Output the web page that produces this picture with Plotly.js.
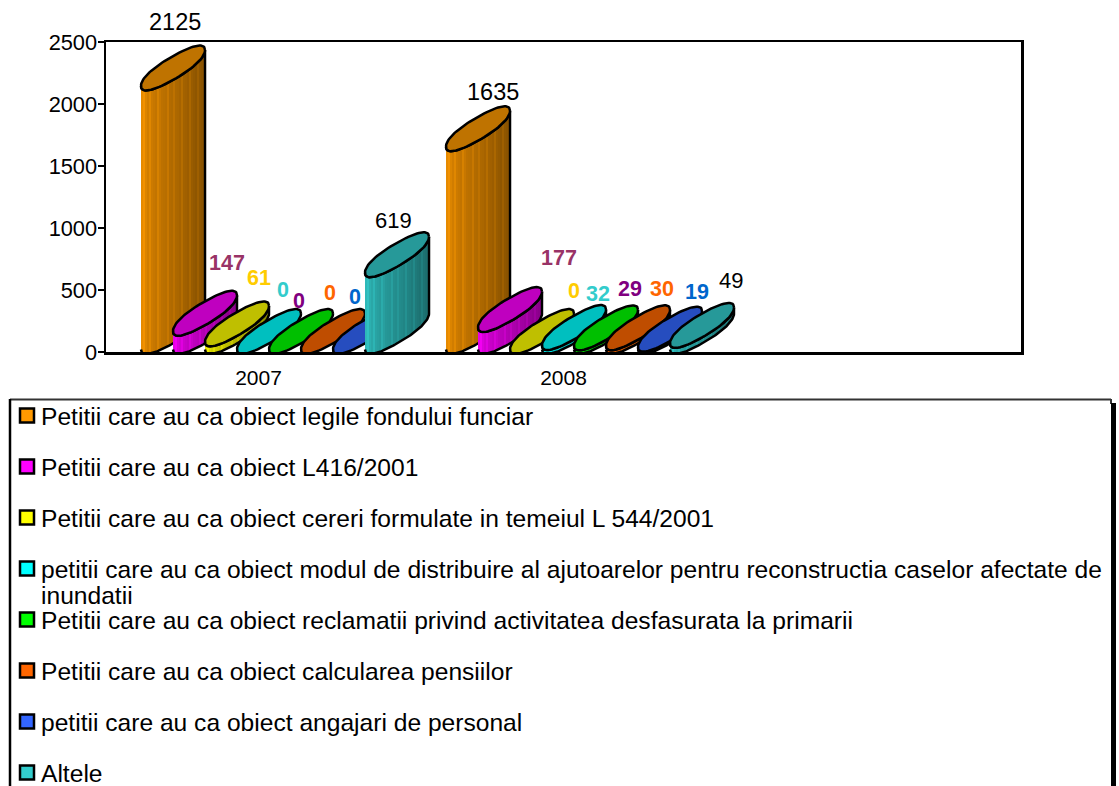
<!DOCTYPE html>
<html><head><meta charset="utf-8">
<script src="https://cdn.plot.ly/plotly-3.0.1.min.js"></script>
<style>html,body{margin:0;padding:0;background:#fff;overflow:hidden}</style>
</head><body><div id="chart" style="width:1119px;height:786px"></div>
<script>
const categories = ['2007','2008'];
const seriesNames = [
 'Petitii care au ca obiect legile fondului funciar',
 'Petitii care au ca obiect L416/2001',
 'Petitii care au ca obiect cereri formulate in temeiul L 544/2001',
 'petitii care au ca obiect modul de distribuire al ajutoarelor pentru reconstructia caselor afectate de<br>inundatii',
 'Petitii care au ca obiect reclamatii privind activitatea desfasurata la primarii',
 'Petitii care au ca obiect calcularea pensiilor',
 'petitii care au ca obiect angajari de personal',
 'Altele'];
const values2007 = [2125,147,61,0,0,0,0,619];
const values2008 = [1635,177,0,32,29,30,19,49];
const yTicks = [0,500,1000,1500,2000,2500];

// styles
const rgb = [[255,153,0],[255,0,255],[255,255,0],[0,255,255],[0,255,0],[255,102,0],[51,102,255],[51,204,204]];
const labelColors = ['#000','#993366','#FFCC00','#33CCCC','#800080','#FF6600','#0066CC','#000'];
const labelPx2007 = [[175,22],[227,263],[259,278],[283,290],[299,301],[330,293],[355,297],[393,220]];
const labelPx2008 = [[493,92],[559,258],[574,291],[598,294],[630,289],[662,289],[697,292],[731,280]];
const stripes = [.9,.95,.86,.82,.88,.8,.78,.76,.84,.78,.74,.73,.72,.78,.7,.69,.74,.68,.67,.65,.71,.64,.63,.61,.67,.6,.58,.56,.62,.56,.54,.58];
const legendY = [416,467,518,569,620,671,722,773];
const LINE2 = 26;

// pixel geometry of the plot and the 3-D cylinders
const L=106,R=1021,T=42,B=352;
const CAT=(R-L)/3, K=(B-T)/2500;
const GROUP_OFF=35, STEP=32, RX=32, SKEW=18, RY=12, LIFT=20.5, ROUND=0.88, N=80;
const xPaper=p=>(p-L)/(R-L), yPaper=p=>(B-p)/(B-T);
const xData=p=>(p-L)/CAT, yData=up=>up/K;
const shade=(c,f)=>`rgb(${Math.round(c[0]*f)},${Math.round(c[1]*f)},${Math.round(c[2]*f)})`;
const spow=u=>Math.sign(u)*Math.pow(Math.abs(u),ROUND);

function ellipse(cx,cy,from,to){ // pixel x, height in px above axis
  const xs=[],ys=[];
  for(let i=0;i<=N;i++){const t=from+(to-from)*i/N, c=spow(Math.cos(t)), s=spow(Math.sin(t));
    xs.push(xData(cx+RX*c));
    ys.push(yData(cy+SKEW*c+RY*s));}
  return {xs,ys};
}
const traces=[];
function cylinder(x0,v,c){
  const h=v*K, cx=x0+RX;
  const top=ellipse(cx,h+LIFT,0,2*Math.PI);
  if(h>0){
    const low=ellipse(cx,LIFT,Math.PI,2*Math.PI);
    const upp=ellipse(cx,h+LIFT,0,-Math.PI);
    const n=stripes.length, cs=[];
    stripes.forEach((f,i)=>{cs.push([i/n,shade(c,f)]);cs.push([(i+1)/n,shade(c,f)]);});
    traces.push({type:'scatter',mode:'lines',hoverinfo:'skip',showlegend:false,
      x:low.xs.concat(upp.xs),y:low.ys.concat(upp.ys),fill:'toself',
      fillgradient:{type:'horizontal',colorscale:cs},
      line:{color:'#000',width:2.5}});
  }
  traces.push({type:'scatter',mode:'lines',hoverinfo:'skip',showlegend:false,
    x:top.xs,y:top.ys,fill:'toself',fillcolor:shade(c,.75),line:{color:'#000',width:2.5}});
}
[values2007,values2008].forEach((vals,ci)=>{
  vals.forEach((v,si)=>cylinder(L+ci*CAT+GROUP_OFF+si*STEP,v,rgb[si]));
});

const shapes=[], annotations=[];
const FONT='Liberation Sans, Arial';
// value labels
[[values2007,labelPx2007],[values2008,labelPx2008]].forEach(([vals,px])=>{
  vals.forEach((v,i)=>{
    const plain=labelColors[i]==='#000';
    annotations.push({xref:'paper',yref:'paper',x:xPaper(px[i][0]),y:yPaper(px[i][1]),xanchor:'center',yanchor:'middle',
      showarrow:false,borderpad:0,text:plain?String(v):'<b>'+v+'</b>',
      font:{family:FONT,size:i===0?23.5:(plain?22:21.5),color:labelColors[i]}});
  });
});
const pl=(x0,y0,x1,y1,w,col)=>shapes.push({type:'line',xref:'paper',yref:'paper',x0:xPaper(x0),y0:yPaper(y0),x1:xPaper(x1),y1:yPaper(y1),line:{color:col,width:w}});
pl(10,399.5,1111,399.5,2,'#333');
pl(10,399,10,790,2.5,'#000');
pl(1111,399,1111,404,2,'#333');
pl(1113.5,403,1113.5,790,5,'#000');
seriesNames.forEach((s,i)=>{
  const y=legendY[i], sy=y-0.5;
  shapes.push({type:'rect',xref:'paper',yref:'paper',x0:xPaper(20),x1:xPaper(34),y0:yPaper(sy-7),y1:yPaper(sy+7),
    fillcolor:shade(rgb[i],1),line:{color:'#000',width:2.5}});
  s.split('<br>').forEach((line,j)=>{
    annotations.push({xref:'paper',yref:'paper',x:xPaper(40),y:yPaper(y+j*LINE2),xanchor:'left',yanchor:'middle',
      align:'left',showarrow:false,text:line,borderpad:0,font:{family:FONT,size:24.6,color:'#000'}});
  });
});

Plotly.newPlot('chart',traces,{
  width:1119,height:786,autosize:false,showlegend:false,
  paper_bgcolor:'#fff',plot_bgcolor:'#fff',
  margin:{l:L,r:1119-R,t:T,b:786-B,pad:0},
  font:{family:FONT,color:'#000'},
  xaxis:{range:[0,3],tickmode:'array',tickvals:categories.map((c,i)=>i+0.5),ticktext:categories,
    ticks:'outside',ticklen:5,tickcolor:'rgba(0,0,0,0)',tickfont:{size:21},
    showgrid:false,zeroline:false,showline:true,linecolor:'#000',linewidth:2.5,mirror:true},
  yaxis:{range:[0,2500],tickmode:'array',tickvals:yTicks,ticktext:yTicks.map(String),
    ticks:'outside',ticklen:6,tickwidth:2,tickcolor:'#000',ticklabelstandoff:-4,tickfont:{size:21.8},
    showgrid:false,zeroline:false,showline:true,linecolor:'#000',linewidth:2.5,mirror:true},
  shapes,annotations
},{displayModeBar:false,staticPlot:true});
</script></body></html>
